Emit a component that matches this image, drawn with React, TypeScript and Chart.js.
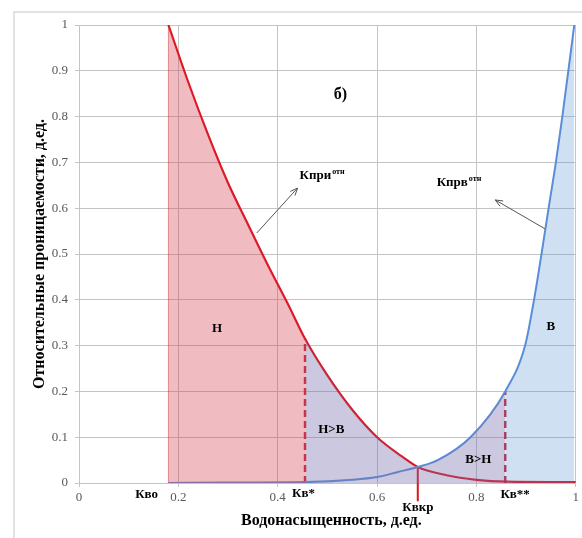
import React, { useEffect, useRef } from "react";
import { Chart, registerables } from "chart.js";

Chart.register(...registerables);

// ---- data ----
const xTickValues = [0, 0.2, 0.4, 0.6, 0.8, 1];
const oilSw = [0.18, 0.22, 0.26, 0.3, 0.34, 0.38, 0.42, 0.455, 0.5, 0.55, 0.6, 0.65, 0.682, 0.74, 0.8, 0.86, 1.0];
const oilKr = [1.0, 0.875, 0.76, 0.655, 0.565, 0.476, 0.392, 0.315, 0.235, 0.16, 0.1, 0.058, 0.035, 0.017, 0.007, 0.003, 0.002];
const waterSw = [0.18, 0.3, 0.455, 0.55, 0.6, 0.642, 0.682, 0.722, 0.788, 0.858, 0.898, 0.916, 0.948, 0.96, 0.973, 0.997];
const waterKr = [0.0, 0.001, 0.002, 0.007, 0.013, 0.024, 0.035, 0.05, 0.1, 0.2, 0.3, 0.4, 0.618, 0.7, 0.8, 1.0];

const Swo = 0.18;
const SwStar = 0.455;
const KrStar = 0.315;
const SwCr = 0.682;
const KrCr = 0.035;
const SwStar2 = 0.858;
const KrStar2 = 0.2;

const areaLabels = [
  { text: "б)", x: 0.526, y: 0.847, size: 16 },
  { text: "Н", x: 0.278, y: 0.338, size: 13 },
  { text: "Н>В", x: 0.508, y: 0.116, size: 13 },
  { text: "В>Н", x: 0.804, y: 0.05, size: 13 },
  { text: "В", x: 0.95, y: 0.341, size: 13 },
];
const axisLabels = [
  { text: "Кво", x: 0.136, dy: 12 },
  { text: "Кв*", x: 0.452, dy: 11 },
  { text: "Квкр", x: 0.682, dy: 25 },
  { text: "Кв**", x: 0.878, dy: 12 },
];
const curveNames = [
  { main: "Кпри", sup: "отн", x: 0.444, y: 0.67, ax0: 0.358, ay0: 0.546, ax1: 0.44, ay1: 0.644 },
  { main: "Кпрв", sup: "отн", x: 0.72, y: 0.655, ax0: 0.938, ay0: 0.555, ax1: 0.838, ay1: 0.618 },
];

const SERIF = '"Liberation Serif", "Times New Roman", serif';
const PINK = "rgba(215,60,80,0.35)";
const PURPLE = "rgba(120,110,170,0.38)";
const LIGHTBLUE = "rgba(80,140,210,0.27)";
const RED = "#e0141e";
const BLUE = "#5a8ed8";
const DASHRED = "#c8283c";

const pts = (xs: number[], ys: number[]) => xs.map((x, i) => ({ x, y: ys[i] }));

const annotPlugin = {
  id: "annot",
  beforeDraw(chart: any) {
    const ctx = chart.ctx;
    ctx.save();
    ctx.strokeStyle = "#d9d9d9";
    ctx.lineWidth = 1.5;
    ctx.beginPath();
    ctx.moveTo(14, 538);
    ctx.lineTo(14, 12);
    ctx.lineTo(582, 12);
    ctx.stroke();
    ctx.restore();
  },
  afterDraw(chart: any) {
    const ctx = chart.ctx;
    const xs = chart.scales.x;
    const ys = chart.scales.y;
    const area = chart.chartArea;
    ctx.save();
    ctx.fillStyle = "#000";
    ctx.textAlign = "center";
    ctx.textBaseline = "middle";
    for (const l of areaLabels) {
      ctx.font = `bold ${l.size}px ${SERIF}`;
      ctx.fillText(l.text, xs.getPixelForValue(l.x), ys.getPixelForValue(l.y));
    }
    ctx.font = `bold 13px ${SERIF}`;
    for (const l of axisLabels) {
      ctx.fillText(l.text, xs.getPixelForValue(l.x), area.bottom + l.dy);
    }
    for (const c of curveNames) {
      const px = xs.getPixelForValue(c.x);
      const py = ys.getPixelForValue(c.y);
      ctx.textAlign = "left";
      ctx.font = `bold 13px ${SERIF}`;
      ctx.fillText(c.main, px, py);
      const w = ctx.measureText(c.main).width;
      ctx.font = `bold 8px ${SERIF}`;
      ctx.fillText(c.sup, px + w + 1, py - 4);
      // arrow
      const x0 = xs.getPixelForValue(c.ax0), y0 = ys.getPixelForValue(c.ay0);
      const x1 = xs.getPixelForValue(c.ax1), y1 = ys.getPixelForValue(c.ay1);
      ctx.strokeStyle = "#555";
      ctx.lineWidth = 1;
      ctx.beginPath();
      ctx.moveTo(x0, y0);
      ctx.lineTo(x1, y1);
      const ang = Math.atan2(y1 - y0, x1 - x0);
      const hl = 8;
      ctx.moveTo(x1 - hl * Math.cos(ang - 0.4), y1 - hl * Math.sin(ang - 0.4));
      ctx.lineTo(x1, y1);
      ctx.lineTo(x1 - hl * Math.cos(ang + 0.4), y1 - hl * Math.sin(ang + 0.4));
      ctx.stroke();
    }
    // axis titles
    ctx.fillStyle = "#000";
    ctx.font = `bold 16px ${SERIF}`;
    ctx.textAlign = "center";
    ctx.fillText("Водонасыщенность, д.ед.", (area.left + area.right) / 2 + 4, area.bottom + 38);
    ctx.translate(40, (area.top + area.bottom) / 2);
    ctx.rotate(-Math.PI / 2);
    ctx.fillText("Относительные проницаемости, д.ед.", 0, 0);
    ctx.restore();
  },
};

export default function App() {
  const ref = useRef<HTMLCanvasElement | null>(null);
  useEffect(() => {
    if (!ref.current) return;
    const envelope = [
      ...pts(oilSw, oilKr).filter((p) => p.x <= SwCr),
      ...pts(waterSw, waterKr).filter((p) => p.x > SwCr),
    ];
    const chart = new Chart(ref.current, {
      type: "line",
      data: {
        datasets: [
          {
            label: "fill",
            data: envelope,
            borderWidth: 0,
            borderColor: "rgba(0,0,0,0)",
            pointRadius: 0,
            fill: "origin",
            backgroundColor: PURPLE,
            cubicInterpolationMode: "monotone",
            segment: {
              backgroundColor: (c: any) =>
                c.p0.parsed.x < SwStar - 1e-6 ? PINK : c.p0.parsed.x < SwStar2 - 1e-6 ? PURPLE : LIGHTBLUE,
            },
          } as any,
          {
            label: "Kvo",
            data: [{ x: Swo, y: 0 }, { x: Swo, y: 1 }],
            borderColor: "rgba(200,50,60,0.55)",
            borderWidth: 1,
            pointRadius: 0,
            fill: false,
          },
          {
            label: "water",
            data: pts(waterSw, waterKr),
            borderColor: BLUE,
            borderWidth: 2,
            pointRadius: 0,
            fill: false,
            cubicInterpolationMode: "monotone",
          },
          {
            label: "oil",
            data: pts(oilSw, oilKr),
            borderColor: RED,
            borderWidth: 2.2,
            pointRadius: 0,
            fill: false,
            cubicInterpolationMode: "monotone",
          },
          {
            label: "Kv*",
            data: [{ x: SwStar, y: 0 }, { x: SwStar, y: KrStar }],
            borderColor: DASHRED,
            borderWidth: 2.5,
            borderDash: [7, 4],
            pointRadius: 0,
            fill: false,
          },
          {
            label: "Kv**",
            data: [{ x: SwStar2, y: 0 }, { x: SwStar2, y: KrStar2 }],
            borderColor: DASHRED,
            borderWidth: 2.5,
            borderDash: [7, 4],
            pointRadius: 0,
            fill: false,
          },
          {
            label: "Kvkr",
            data: [{ x: SwCr, y: KrCr }, { x: SwCr, y: -0.04 }],
            borderColor: RED,
            borderWidth: 2,
            pointRadius: 0,
            fill: false,
            clip: false,
          } as any,
        ],
      },
      options: {
        responsive: false,
        animation: false,
        layout: { padding: { left: 0, top: 25, right: 3, bottom: 0 } },
        plugins: { legend: { display: false }, tooltip: { enabled: false } },
        scales: {
          x: {
            type: "linear",
            min: 0,
            max: 1,
            afterBuildTicks: (s: any) => {
              s.ticks = xTickValues.map((v) => ({ value: v }));
            },
            afterFit: (s: any) => {
              s.height = 55;
            },
            ticks: {
              callback: (v: any) => String(Number(Number(v).toFixed(1))),
              font: { family: SERIF, size: 13 },
              color: "#595959",
              padding: 3,
              maxRotation: 0,
            },
            grid: { color: "#c4c4c4", lineWidth: 1, tickLength: 4 },
            border: { color: "#c4c4c4" },
          },
          y: {
            type: "linear",
            min: 0,
            max: 1,
            ticks: {
              stepSize: 0.1,
              callback: (v: any) => String(Number(Number(v).toFixed(1))),
              font: { family: SERIF, size: 13 },
              color: "#595959",
              padding: 7,
            },
            afterFit: (s: any) => {
              s.width = 79;
            },
            grid: { color: "#c4c4c4", lineWidth: 1, tickLength: 4 },
            border: { color: "#c4c4c4" },
          },
        },
      },
      plugins: [annotPlugin],
    });
    return () => chart.destroy();
  }, []);
  return (
    <div style={{ position: "fixed", left: 0, top: 0, width: 582, height: 538, background: "#fff" }}>
      <canvas ref={ref} width={582} height={538} style={{ display: "block", width: 582, height: 538 }} />
    </div>
  );
}
